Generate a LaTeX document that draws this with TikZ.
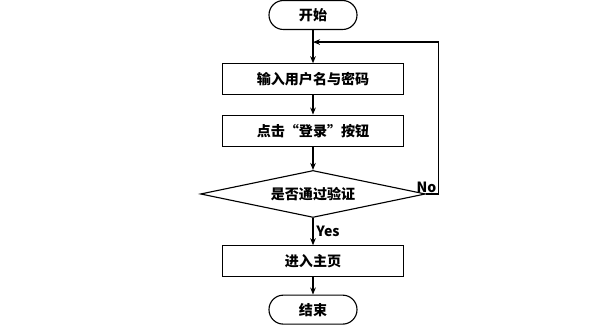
\documentclass[tikz,border=0pt]{standalone}
\usepackage{fontspec}
\newfontfamily\cjk{Noto Sans CJK SC}
\usepackage{tikz}
\usetikzlibrary{positioning,shapes.geometric,arrows.meta}

\begin{document}
\begin{tikzpicture}[
    font=\cjk\bfseries\fontsize{10}{12}\selectfont,
    terminal/.style={draw, thick, rounded corners=0.36cm, minimum width=2.2cm, minimum height=0.725cm, inner sep=0pt},
    box/.style={draw, thick, align=center, minimum width=4.525cm, minimum height=0.775cm, inner sep=0pt},
    decision/.style={draw, thick, diamond, aspect=5, minimum width=5.625cm, minimum height=1.175cm, inner sep=0pt},
    arrow/.style={-{Stealth[length=5pt,width=4pt]}, thick}
  ]
    \useasboundingbox (0,0) rectangle (15.275,-8.375);
    \node[terminal] (start) at (7.825,-0.375) {开始};
    \coordinate[below=0.3cm of start] (join);
    \node[box, below=0.83cm of start] (input) {输入用户名与密码};
    \node[box, below=0.48cm of input] (click) {点击“登录”按钮};
    \node[decision, below=0.58cm of click] (check) {是否通过验证};
    \node[box, below=0.68cm of check] (home) {进入主页};
    \node[terminal, below=0.43cm of home] (stop) {结束};
    \coordinate[right=0.3cm of check.east] (turn);
    \draw[arrow] (start) -- (input);
    \draw[arrow] (input) -- (click);
    \draw[arrow] (click) -- (check);
    \draw[arrow] (check) -- node[right, inner sep=2pt] {Yes} (home);
    \draw[arrow] (home) -- (stop);
    \draw[arrow] (check.east) -- (turn) |- (join);
    \node[anchor=south east, inner sep=1pt] (no) at (turn) {No};
  \end{tikzpicture}
\end{document}
